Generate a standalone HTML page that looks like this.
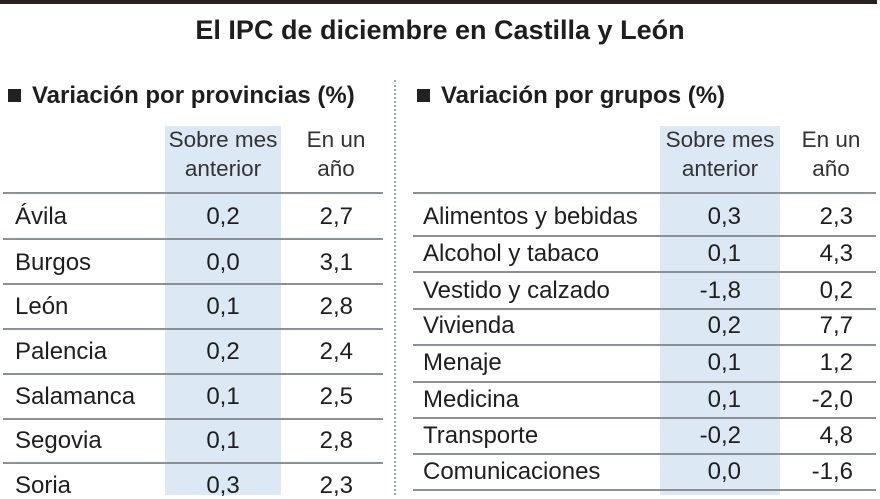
<!DOCTYPE html>
<html><head><meta charset="utf-8"><style>
body{margin:0;width:880px;height:495px;overflow:hidden;background:#fff;position:relative;font-family:"Liberation Sans",sans-serif;color:#1e1e1e}
div{position:absolute}
.t{font-size:24px;line-height:26px;white-space:nowrap}
.h{font-size:22.5px;line-height:24px;color:#333;text-align:center;white-space:nowrap}
.ln{height:2px;background:#8a9098}
.r{text-align:right}
</style></head><body>
<div style="left:0;top:0;width:877px;height:4px;background:#2a2020"></div>
<div style="left:0;top:13px;width:880px;text-align:center;font-size:27px;font-weight:bold;line-height:34px">El IPC de diciembre en Castilla y León</div>
<div style="left:394px;top:80px;height:415px;border-left:2px dotted #9aa"></div>
<div style="left:8px;top:89px;width:13px;height:13px;background:#222"></div>
<div style="left:32px;top:82px;font-size:24px;font-weight:bold;line-height:28px">Variación por provincias (%)</div>
<div style="left:417px;top:89px;width:13px;height:13px;background:#222"></div>
<div style="left:441px;top:82px;font-size:24px;font-weight:bold;line-height:28px">Variación por grupos (%)</div>

<div style="left:165px;top:126px;width:116px;height:369px;background:#dce9f5"></div>
<div style="left:660px;top:126px;width:120px;height:369px;background:#dce9f5"></div>

<div class="h" style="left:165px;top:128px;width:116px">Sobre mes<br><span style="line-height:34px">anterior</span></div>
<div class="h" style="left:300px;top:128px;width:72px">En un<br><span style="line-height:34px">año</span></div>
<div class="h" style="left:660px;top:128px;width:120px">Sobre mes<br><span style="line-height:34px">anterior</span></div>
<div class="h" style="left:795px;top:128px;width:72px">En un<br><span style="line-height:34px">año</span></div>

<div class="ln" style="left:3px;top:192px;width:380px"></div>
<div class="ln" style="left:3px;top:238px;width:380px"></div>
<div class="ln" style="left:3px;top:283px;width:380px"></div>
<div class="ln" style="left:3px;top:328px;width:380px"></div>
<div class="ln" style="left:3px;top:373px;width:380px"></div>
<div class="ln" style="left:3px;top:418px;width:380px"></div>
<div class="ln" style="left:3px;top:462px;width:380px"></div>

<div class="t" style="left:15px;top:204px">Ávila</div><div class="t" style="left:165px;top:204px;width:116px;text-align:center">0,2</div><div class="t r" style="left:300px;top:204px;width:53px">2,7</div>
<div class="t" style="left:15px;top:250px">Burgos</div><div class="t" style="left:165px;top:250px;width:116px;text-align:center">0,0</div><div class="t r" style="left:300px;top:250px;width:53px">3,1</div>
<div class="t" style="left:15px;top:294px">León</div><div class="t" style="left:165px;top:294px;width:116px;text-align:center">0,1</div><div class="t r" style="left:300px;top:294px;width:53px">2,8</div>
<div class="t" style="left:15px;top:339px">Palencia</div><div class="t" style="left:165px;top:339px;width:116px;text-align:center">0,2</div><div class="t r" style="left:300px;top:339px;width:53px">2,4</div>
<div class="t" style="left:15px;top:384px">Salamanca</div><div class="t" style="left:165px;top:384px;width:116px;text-align:center">0,1</div><div class="t r" style="left:300px;top:384px;width:53px">2,5</div>
<div class="t" style="left:15px;top:428px">Segovia</div><div class="t" style="left:165px;top:428px;width:116px;text-align:center">0,1</div><div class="t r" style="left:300px;top:428px;width:53px">2,8</div>
<div class="t" style="left:15px;top:473px">Soria</div><div class="t" style="left:165px;top:473px;width:116px;text-align:center">0,3</div><div class="t r" style="left:300px;top:473px;width:53px">2,3</div>

<div class="ln" style="left:413px;top:192px;width:463px"></div>
<div class="ln" style="left:413px;top:235px;width:463px"></div>
<div class="ln" style="left:413px;top:271px;width:463px"></div>
<div class="ln" style="left:413px;top:308px;width:463px"></div>
<div class="ln" style="left:413px;top:344px;width:463px"></div>
<div class="ln" style="left:413px;top:381px;width:463px"></div>
<div class="ln" style="left:413px;top:417px;width:463px"></div>
<div class="ln" style="left:413px;top:453px;width:463px"></div>
<div class="ln" style="left:413px;top:489px;width:463px"></div>

<div class="t" style="left:423px;top:204px">Alimentos y bebidas</div><div class="t r" style="left:660px;top:204px;width:81px">0,3</div><div class="t r" style="left:795px;top:204px;width:58px">2,3</div>
<div class="t" style="left:423px;top:241px">Alcohol y tabaco</div><div class="t r" style="left:660px;top:241px;width:81px">0,1</div><div class="t r" style="left:795px;top:241px;width:58px">4,3</div>
<div class="t" style="left:423px;top:278px">Vestido y calzado</div><div class="t r" style="left:660px;top:278px;width:81px">-1,8</div><div class="t r" style="left:795px;top:278px;width:58px">0,2</div>
<div class="t" style="left:423px;top:313px">Vivienda</div><div class="t r" style="left:660px;top:313px;width:81px">0,2</div><div class="t r" style="left:795px;top:313px;width:58px">7,7</div>
<div class="t" style="left:423px;top:350px">Menaje</div><div class="t r" style="left:660px;top:350px;width:81px">0,1</div><div class="t r" style="left:795px;top:350px;width:58px">1,2</div>
<div class="t" style="left:423px;top:387px">Medicina</div><div class="t r" style="left:660px;top:387px;width:81px">0,1</div><div class="t r" style="left:795px;top:387px;width:58px">-2,0</div>
<div class="t" style="left:423px;top:423px">Transporte</div><div class="t r" style="left:660px;top:423px;width:81px">-0,2</div><div class="t r" style="left:795px;top:423px;width:58px">4,8</div>
<div class="t" style="left:423px;top:459px">Comunicaciones</div><div class="t r" style="left:660px;top:459px;width:81px">0,0</div><div class="t r" style="left:795px;top:459px;width:58px">-1,6</div>
</body></html>
